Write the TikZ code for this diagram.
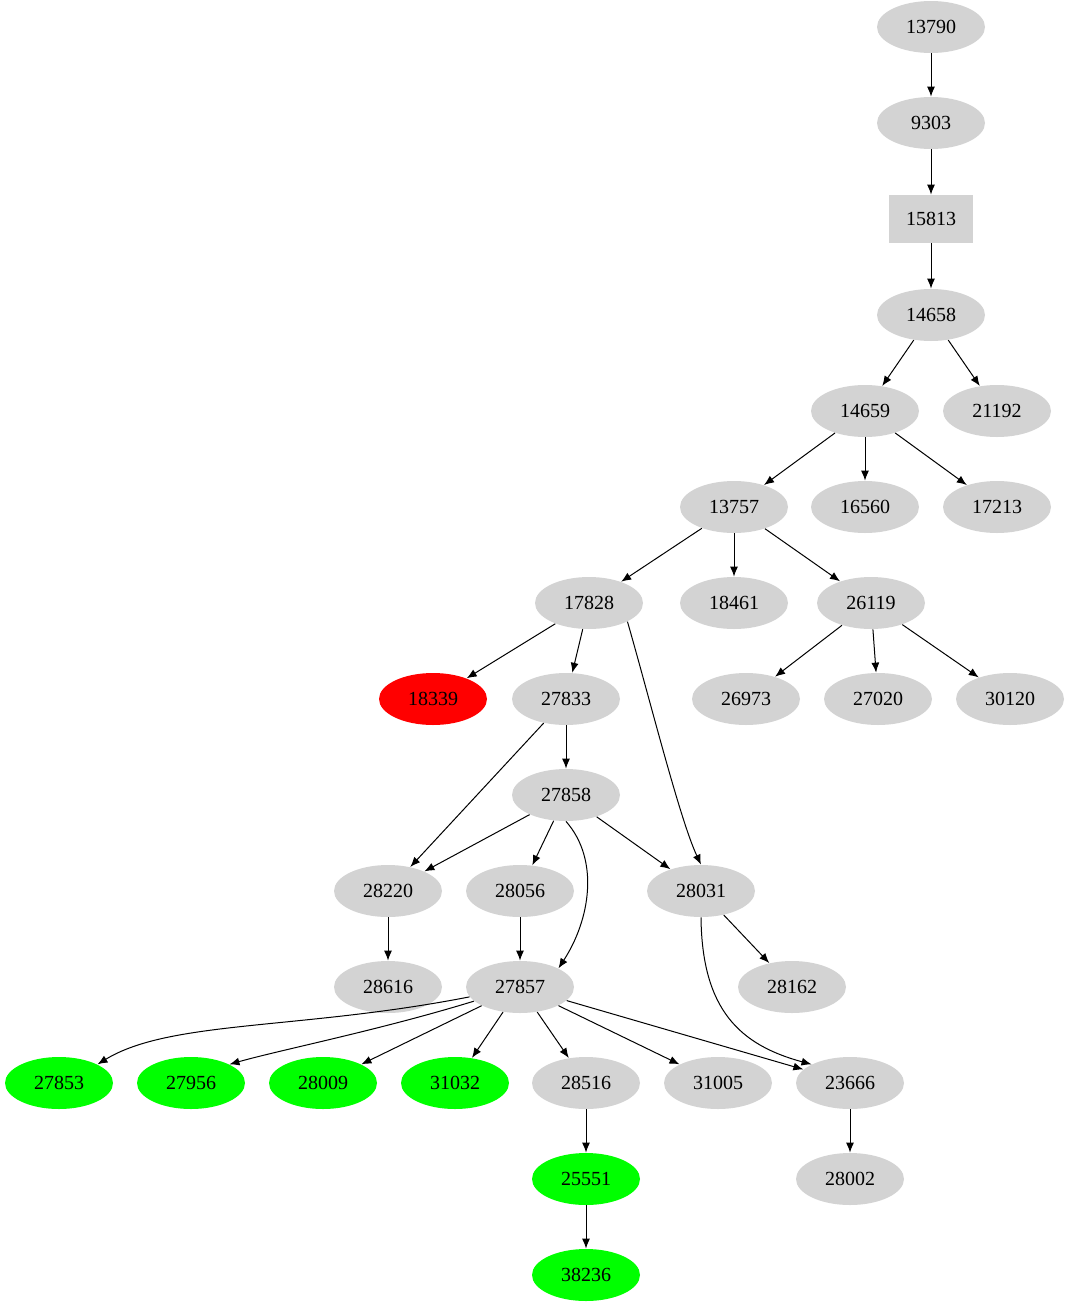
\documentclass[tikz,border=0pt]{standalone}
\usepackage{fontspec}
\setmainfont{Liberation Serif}
\usetikzlibrary{shapes.geometric,arrows.meta}
\definecolor{ng}{RGB}{211,211,211}
\definecolor{gr}{RGB}{0,255,0}
\definecolor{rd}{RGB}{255,0,0}
\begin{document}
\begin{tikzpicture}[x=0.5pt,y=-0.5pt,
  nd/.style={ellipse,fill=ng,minimum width=54pt,minimum height=26pt,inner sep=0pt,font=\fontsize{10}{12}\selectfont},
  gn/.style={nd,fill=gr},
  rn/.style={nd,fill=rd},
  bx/.style={rectangle,fill=ng,minimum width=42pt,minimum height=24pt,inner sep=0pt,font=\fontsize{10}{12}\selectfont},
  e/.style={-{Latex[length=5pt,width=4pt]},line width=0.5pt}]
\useasboundingbox (0,0) rectangle (1070,1307);
\node[nd] (n13790) at (931,27) {13790};
\node[nd] (n9303) at (931,123) {9303};
\node[bx] (n15813) at (931,219) {15813};
\node[nd] (n14658) at (931,315) {14658};
\node[nd] (n14659) at (865,411) {14659};
\node[nd] (n21192) at (997,411) {21192};
\node[nd] (n13757) at (734,507) {13757};
\node[nd] (n16560) at (865,507) {16560};
\node[nd] (n17213) at (997,507) {17213};
\node[nd] (n17828) at (589,603) {17828};
\node[nd] (n18461) at (734,603) {18461};
\node[nd] (n26119) at (871,603) {26119};
\node[rn] (n18339) at (433,699) {18339};
\node[nd] (n27833) at (566,699) {27833};
\node[nd] (n26973) at (746,699) {26973};
\node[nd] (n27020) at (878,699) {27020};
\node[nd] (n30120) at (1010,699) {30120};
\node[nd] (n27858) at (566,795) {27858};
\node[nd] (n28220) at (388,891) {28220};
\node[nd] (n28056) at (520,891) {28056};
\node[nd] (n28031) at (701,891) {28031};
\node[nd] (n28616) at (388,987) {28616};
\node[nd] (n27857) at (520,987) {27857};
\node[nd] (n28162) at (792,987) {28162};
\node[gn] (n27853) at (59,1083) {27853};
\node[gn] (n27956) at (191,1083) {27956};
\node[gn] (n28009) at (323,1083) {28009};
\node[gn] (n31032) at (455,1083) {31032};
\node[nd] (n28516) at (586,1083) {28516};
\node[nd] (n31005) at (718,1083) {31005};
\node[nd] (n23666) at (850,1083) {23666};
\node[gn] (n25551) at (586,1179) {25551};
\node[nd] (n28002) at (850,1179) {28002};
\node[gn] (n38236) at (586,1275) {38236};
\draw[e] (n13790) -- (n9303);
\draw[e] (n9303) -- (n15813);
\draw[e] (n15813) -- (n14658);
\draw[e] (n14658) -- (n14659);
\draw[e] (n14658) -- (n21192);
\draw[e] (n14659) -- (n13757);
\draw[e] (n14659) -- (n16560);
\draw[e] (n14659) -- (n17213);
\draw[e] (n13757) -- (n17828);
\draw[e] (n13757) -- (n18461);
\draw[e] (n13757) -- (n26119);
\draw[e] (n17828) -- (n18339);
\draw[e] (n17828) -- (n27833);
\draw[e] (n17828.south east) .. controls (650,700) and (680,820) .. (n28031.north);
\draw[e] (n26119) -- (n26973);
\draw[e] (n26119) -- (n27020);
\draw[e] (n26119) -- (n30120);
\draw[e] (n27833) -- (n27858);
\draw[e] (n27833) -- (n28220);
\draw[e] (n27858) -- (n28220);
\draw[e] (n27858) -- (n28056);
\draw[e] (n27858) -- (n28031);
\draw[e] (n27858.south) .. controls (600,860) and (590,920) .. (n27857.north east);
\draw[e] (n28220) -- (n28616);
\draw[e] (n28056) -- (n27857);
\draw[e] (n28031) -- (n28162);
\draw[e] (n28031.south) .. controls (702,1010) and (740,1045) .. (n23666.north west);
\draw[e] (n27857) .. controls (300,1030) and (170,1020) .. (n27853.north east);
\draw[e] (n27857) .. controls (380,1030) and (280,1050) .. (n27956.north east);
\draw[e] (n27857) -- (n28009);
\draw[e] (n27857) -- (n31032);
\draw[e] (n27857) -- (n28516);
\draw[e] (n27857) -- (n31005);
\draw[e] (n27857) -- (n23666);
\draw[e] (n28516) -- (n25551);
\draw[e] (n25551) -- (n38236);
\draw[e] (n23666) -- (n28002);
\end{tikzpicture}
\end{document}
